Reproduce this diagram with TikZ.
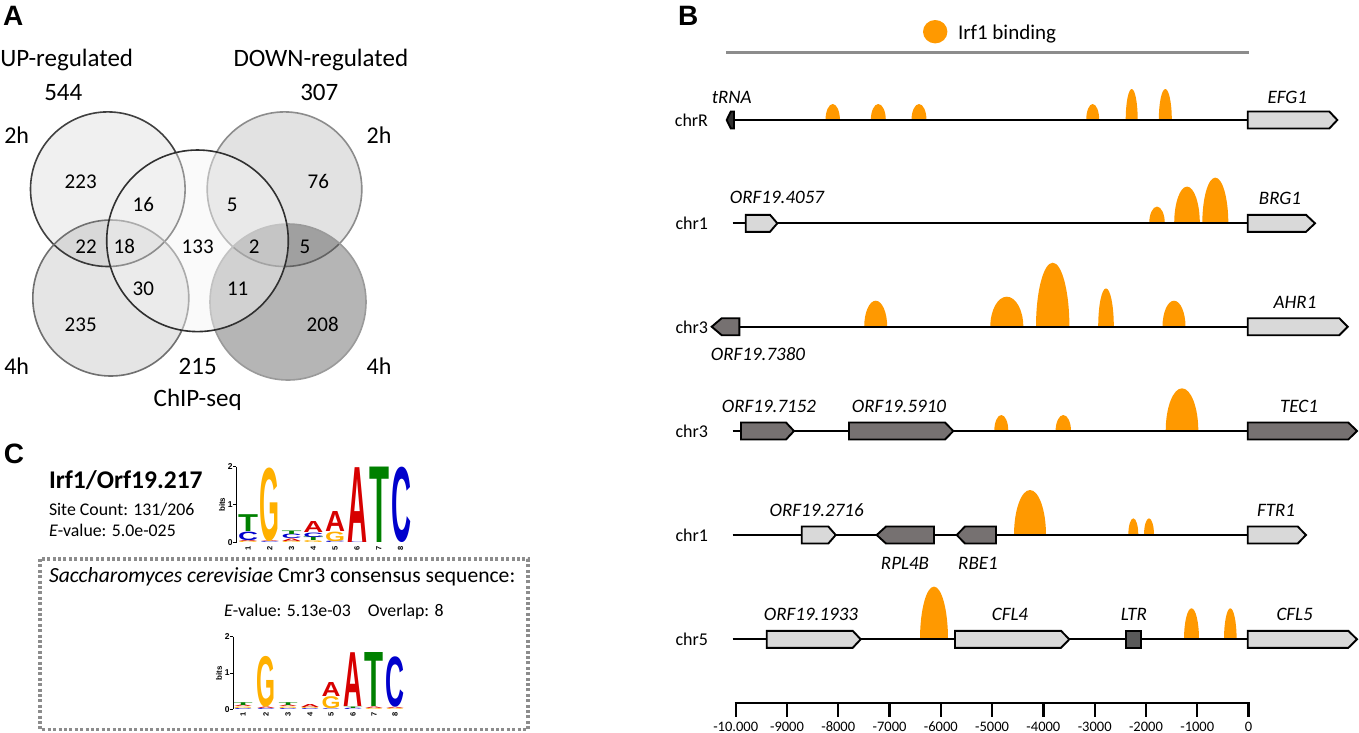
\documentclass[tikz,border=0pt]{standalone}
\usepackage{fontspec}
\usepackage{graphicx}
\setmainfont{Carlito}
\newfontfamily\lsans{Liberation Sans}
\newcommand{\fsz}[1]{\fontsize{#1}{#1}\selectfont}
\newcommand{\logof}{\lsans\bfseries}
\definecolor{vTL}{HTML}{404040}
\definecolor{vTR}{HTML}{8C8C8C}
\definecolor{vBL}{HTML}{707070}
\definecolor{vBR}{HTML}{9A9A9A}
\definecolor{vM}{HTML}{303030}
\definecolor{vMf}{HTML}{F3F3F3}
\definecolor{peak}{RGB}{255,153,0}
\definecolor{glight}{HTML}{D9D9D9}
\definecolor{gdark}{HTML}{767171}
\definecolor{gltr}{HTML}{595959}
\definecolor{gtrna}{HTML}{303030}
\definecolor{lgray}{HTML}{8C8C8C}
\definecolor{lA}{RGB}{215,0,0}
\definecolor{lC}{RGB}{0,0,204}
\definecolor{lG}{RGB}{255,176,0}
\definecolor{lT}{RGB}{0,128,0}
\newcommand{\peakshape}[4]{\fill[peak] ({#1-#3},#2) arc[start angle=180,end angle=360,x radius=#3,y radius=#4] -- cycle;}
\newcommand{\gener}[5]{\draw[gene,fill=#5] (#1,{#4-8.5}) -- (#2,{#4-8.5}) -- (#3,#4) -- (#2,{#4+8.5}) -- (#1,{#4+8.5}) -- cycle;}
\newcommand{\genel}[5]{\draw[gene,fill=#5] (#2,{#4-8.5}) -- (#3,{#4-8.5}) -- (#3,{#4+8.5}) -- (#2,{#4+8.5}) -- (#1,#4) -- cycle;}
\def\lgw{20pt}
\newcommand{\lgl}[5]{\node[inner sep=0pt,outer sep=0pt,anchor=south] at (#1,#2) {\resizebox*{\lgw}{#3pt}{\color{#4}\logof #5}};}
\begin{document}
\begin{tikzpicture}[x=1pt,y=-1pt,
 every node/.style={inner sep=0pt,outer sep=0pt},
 hd/.style={font=\fsz{25},anchor=base},
 hh/.style={font=\fsz{24},anchor=base},
 vn/.style={font=\fsz{21},anchor=base},
 gl/.style={font=\fsz{19}\itshape,anchor=base},
 chl/.style={font=\fsz{18},anchor=base east},
 tk/.style={font=\fsz{14.5},anchor=base},
 ct/.style={font=\fsz{17.8},anchor=base west},
 pl/.style={font=\lsans\bfseries\fsz{28},anchor=base west},
 chrline/.style={line width=2.3pt},
 gene/.style={line width=1.9pt,line join=miter,miter limit=4},
 vc/.style={line width=1.6pt},
 dashbox/.style={draw=lgray,line width=3.2pt,dash pattern=on 3pt off 2.4pt},
 lax/.style={line width=0.9pt},
 lsm/.style={font=\logof\fsz{8.5}},
]
\useasboundingbox (0,0) rectangle (1359,732);

% ---------------- Panel A: Venn ----------------
\path[vc,draw=vTL,fill=black,fill opacity=0.06] (107.8,189.2) circle[radius=77.3];
\path[vc,draw=vTR,fill=black,fill opacity=0.115] (284.5,189.2) circle[radius=77.3];
\path[vc,draw=vBL,fill=black,fill opacity=0.1] (110.8,298) circle[radius=78];
\path[vc,draw=vBR,fill=black,fill opacity=0.29] (288,302) circle[radius=78];
\path[vc,draw=vM,fill=vMf,fill opacity=0.45] (197.5,240.8) circle[radius=90.8];

\node[pl] (pA) at (3,25) {A};
\node[hd] (up) at (66.7,66.3) {UP-regulated};
\node[hd] (n544) at (63.3,100.3) {544};
\node[hd] (down) at (320.8,66.3) {DOWN-regulated};
\node[hd] (n307) at (319.3,100.3) {307};
\node[hh] (h2l) at (16.7,143.7) {2h};
\node[hh] (h2r) at (379,143.7) {2h};
\node[hh] (h4l) at (16.7,374.4) {4h};
\node[hh] (h4r) at (379,374.4) {4h};
\node[hd] (n215) at (197.7,374.7) {215};
\node[hd] (chip) at (197.7,406) {ChIP-seq};
\node[vn] (v223) at (80.7,188.5) {223};
\node[vn] (v16) at (143.3,211.8) {16};
\node[vn] (v5a) at (232.3,211.8) {5};
\node[vn] (v76) at (318.3,188.5) {76};
\node[vn] (v22) at (86,253.5) {22};
\node[vn] (v18) at (124.3,253.5) {18};
\node[vn] (v133) at (197.7,253.5) {133};
\node[vn] (v2) at (254.3,253.5) {2};
\node[vn] (v5b) at (305,253.5) {5};
\node[vn] (v30) at (143.3,295.1) {30};
\node[vn] (v11) at (237.7,295.1) {11};
\node[vn] (v235) at (80.7,331.8) {235};
\node[vn] (v208) at (322.7,331.8) {208};

% ---------------- Panel C ----------------
\node[pl] (pC) at (4,463.3) {C};
\node[font=\fsz{25.5}\bfseries,anchor=base west] (irf) at (49,488.2) {Irf1/Orf19.217};
\node[ct] (site) at (49,515) {Site Count: 131/206};
\node[ct] (ev1) at (49,536.7) {\textit{E}-value: 5.0e-025};
\draw[dashbox] (40,559) rectangle (528,729.5);
\node[ct,font=\fsz{21.6}] (sc) at (49,582.7) {\textit{Saccharomyces cerevisiae} Cmr3 consensus sequence:};
\node[ct] (ev2) at (224,616.7) {\textit{E}-value: 5.13e-03\hspace{17pt}Overlap: 8};

% logo 1 axis
\draw[lax] (236,466.7) -- (236,542.7);
\draw[lax] (233,466.7) -- (236,466.7) (233,504.7) -- (236,504.7) (233,542.7) -- (236,542.7);
\node[lsm,anchor=east] (l1y2) at (232.5,466.7) {2};
\node[lsm,anchor=east] (l1y1) at (232.5,504.7) {1};
\node[lsm,anchor=east] (l1y0) at (232.5,542.7) {0};
\node[lsm,font=\logof\fsz{8},rotate=90] (l1bits) at (222,504.7) {bits};
\foreach \i in {1,...,8} \node[font=\logof\fsz{7.5},rotate=90,anchor=east] (l1n\i) at ({248+21.8*(\i-1)},546) {\i};
% logo 1 letters
\def\lgw{20pt}
\lgl{248}{542.7}{1.2}{lG}{G}\lgl{248}{541.5}{1.2}{lA}{A}\lgl{248}{540.3}{8.5}{lC}{C}\lgl{248}{531.8}{16.8}{lT}{T}
\lgl{269.8}{542.7}{0.8}{lC}{C}\lgl{269.8}{541.9}{0.8}{lA}{A}\lgl{269.8}{541.1}{73.5}{lG}{G}
\lgl{291.6}{542.7}{1.5}{lG}{G}\lgl{291.6}{541.2}{2.5}{lA}{A}\lgl{291.6}{538.7}{4.5}{lC}{C}\lgl{291.6}{534.2}{3.5}{lT}{T}
\lgl{313.4}{542.7}{2}{lG}{G}\lgl{313.4}{540.7}{3.5}{lT}{T}\lgl{313.4}{537.2}{4.5}{lC}{C}\lgl{313.4}{532.7}{11}{lA}{A}
\lgl{335.2}{542.7}{1.5}{lC}{C}\lgl{335.2}{541.2}{9.5}{lG}{G}\lgl{335.2}{531.7}{20}{lA}{A}
\lgl{357.5}{542.7}{0.6}{lC}{C}\lgl{357.5}{542.1}{74.8}{lA}{A}
\lgl{379.5}{542.7}{75.4}{lT}{T}
\lgl{401.5}{542.7}{75.4}{lC}{C}

% logo 2 axis
\draw[lax] (233,636.7) -- (233,709.3);
\draw[lax] (230,636.7) -- (233,636.7) (230,673) -- (233,673) (230,709.3) -- (233,709.3);
\node[lsm,anchor=east] (l2y2) at (229.5,636.7) {2};
\node[lsm,anchor=east] (l2y1) at (229.5,673) {1};
\node[lsm,anchor=east] (l2y0) at (229.5,709.3) {0};
\node[lsm,font=\logof\fsz{8},rotate=90] (l2bits) at (219,673) {bits};
\foreach \i/\xx in {1/243,2/266,3/288,4/310,5/331,6/353,7/374,8/395} \node[font=\logof\fsz{7.5},rotate=90,anchor=east] (l2n\i) at (\xx,712.5) {\i};
% logo 2 letters
\def\lgw{19pt}
\lgl{243}{709.3}{1}{lC}{C}\lgl{243}{708.3}{1.5}{lG}{G}\lgl{243}{706.8}{1.5}{lA}{A}\lgl{243}{705.3}{2.8}{lT}{T}
\lgl{266}{709.3}{1}{lC}{C}\lgl{266}{708.3}{1.5}{lA}{A}\lgl{266}{706.8}{50.8}{lG}{G}
\lgl{288}{709.3}{1}{lC}{C}\lgl{288}{708.3}{1.5}{lG}{G}\lgl{288}{706.8}{1.5}{lA}{A}\lgl{288}{705.3}{2.8}{lT}{T}
\lgl{310}{709.3}{1}{lC}{C}\lgl{310}{708.3}{1.3}{lG}{G}\lgl{310}{707}{3}{lA}{A}
\lgl{331}{709.3}{0.8}{lC}{C}\lgl{331}{708.5}{12}{lG}{G}\lgl{331}{696.5}{14}{lA}{A}
\lgl{353}{709.3}{1.3}{lC}{C}\lgl{353}{708}{1.5}{lT}{T}\lgl{353}{706.5}{53.8}{lA}{A}
\lgl{374}{709.3}{1}{lG}{G}\lgl{374}{708.3}{1.5}{lA}{A}\lgl{374}{706.8}{54}{lT}{T}
\lgl{395}{709.3}{1}{lG}{G}\lgl{395}{708.3}{1.2}{lA}{A}\lgl{395}{707.1}{50.4}{lC}{C}

% ---------------- Panel B ----------------
\node[pl] (pB) at (678,25) {B};
\fill[peak] (935.2,31.7) ellipse[x radius=12.2,y radius=11.7];
\node[font=\fsz{21},anchor=base west] (leg) at (958,39.3) {Irf1 binding};
\draw[line width=3.5pt,lgray] (726,52.7) -- (1249,52.7);

% peaks
\peakshape{832.7}{120}{7.2}{16}\peakshape{878.3}{120}{7.5}{16}\peakshape{919}{120}{7.5}{16}
\peakshape{1092.7}{120}{6.5}{16}\peakshape{1131.7}{120}{6}{31}\peakshape{1165.3}{120}{6.5}{31}
\peakshape{1157}{223.3}{7.8}{16.7}\peakshape{1187}{223.3}{12.8}{36.7}\peakshape{1215.3}{223.3}{13}{45.7}
\peakshape{875.7}{326.7}{11.5}{26}\peakshape{1006.8}{326.7}{16.5}{30}\peakshape{1052.7}{326.7}{16.7}{64}
\peakshape{1106}{326.7}{7.8}{38.3}\peakshape{1174}{326.7}{11.5}{26}
\peakshape{1001.3}{431}{7}{16}\peakshape{1063.3}{431}{7.7}{16}\peakshape{1182}{431}{16.3}{42.7}
\peakshape{1030}{535}{16}{45}\peakshape{1133.3}{535}{5}{16.7}\peakshape{1149}{535}{5}{16.7}
\peakshape{934}{639.3}{14}{52.7}\peakshape{1191.5}{639.3}{7.5}{31}\peakshape{1230.3}{639.3}{6.3}{31}

% chromosome lines
\draw[chrline] (734,120) -- (1247.7,120);
\draw[chrline] (732.7,223.3) -- (1247.7,223.3);
\draw[chrline] (739.3,326.7) -- (1247.7,326.7);
\draw[chrline] (732.7,431) -- (1247.7,431);
\draw[chrline] (732.7,535) -- (1247.7,535);
\draw[chrline] (732.7,639.3) -- (1247.7,639.3);

% genes
\genel{726.7}{730.8}{734}{120}{gtrna}
\gener{1247.7}{1329.3}{1337.3}{120}{glight}
\gener{745.7}{770}{777.3}{223.3}{glight}
\gener{1247.7}{1306}{1315}{223.3}{glight}
\genel{711.7}{721.7}{739.3}{326.7}{gdark}
\gener{1247.7}{1339.3}{1347.7}{326.7}{glight}
\gener{741}{786}{794}{431}{gdark}
\gener{849}{945}{953.3}{431}{gdark}
\gener{1247.7}{1348.3}{1357}{431}{gdark}
\gener{801.7}{828.3}{835.7}{535}{glight}
\genel{876.7}{886}{934}{535}{gdark}
\genel{956.7}{965}{996}{535}{gdark}
\gener{1247.7}{1297.7}{1306}{535}{glight}
\gener{766.7}{852.7}{860.7}{639.3}{glight}
\gener{955}{1061}{1069.3}{639.3}{glight}
\draw[gene,fill=gltr] (1126,630.8) rectangle (1140.7,647.8);
\gener{1247.7}{1348.3}{1357}{639.3}{glight}

% chromosome labels
\node[chl] (cR) at (708,126.7) {chrR};
\node[chl] (c1a) at (708,229.8) {chr1};
\node[chl] (c3a) at (708,333.2) {chr3};
\node[chl] (c3b) at (708,437.5) {chr3};
\node[chl] (c1b) at (708,541.5) {chr1};
\node[chl] (c5) at (708,645.8) {chr5};

% gene labels
\node[gl] (gtRNA) at (731.7,103.3) {tRNA};
\node[gl] (gEFG1) at (1287.3,103.3) {EFG1};
\node[gl] (g4057) at (777,203.3) {ORF19.4057};
\node[gl] (gBRG1) at (1280,204) {BRG1};
\node[gl] (g7380) at (758,360) {ORF19.7380};
\node[gl] (gAHR1) at (1295,308.3) {AHR1};
\node[gl] (g7152) at (769,412.3) {ORF19.7152};
\node[gl] (g5910) at (899,412.3) {ORF19.5910};
\node[gl] (gTEC1) at (1299,412.3) {TEC1};
\node[gl] (g2716) at (816.7,516.7) {ORF19.2716};
\node[gl] (gFTR1) at (1276,516.7) {FTR1};
\node[gl] (gRPL4B) at (905,569.3) {RPL4B};
\node[gl] (gRBE1) at (978,569.3) {RBE1};
\node[gl] (g1933) at (811,620.7) {ORF19.1933};
\node[gl] (gCFL4) at (1010,620.7) {CFL4};
\node[gl] (gLTR) at (1134,620.7) {LTR};
\node[gl] (gCFL5) at (1294.7,620.7) {CFL5};

% axis
\draw[chrline] (734.5,702.7) -- (1249.7,702.7);
\foreach \i/\t in {0/-10.000,1/-9000,2/-8000,3/-7000,4/-6000,5/-5000,6/-4000,7/-3000,8/-2000,9/-1000,10/0} {
  \draw[chrline] ({735.7+51.28*\i},702.7) -- ({735.7+51.28*\i},716.7);
  \node[tk] (t\i) at ({735.7+51.28*\i},731) {\t};
}
\end{tikzpicture}
\end{document}
